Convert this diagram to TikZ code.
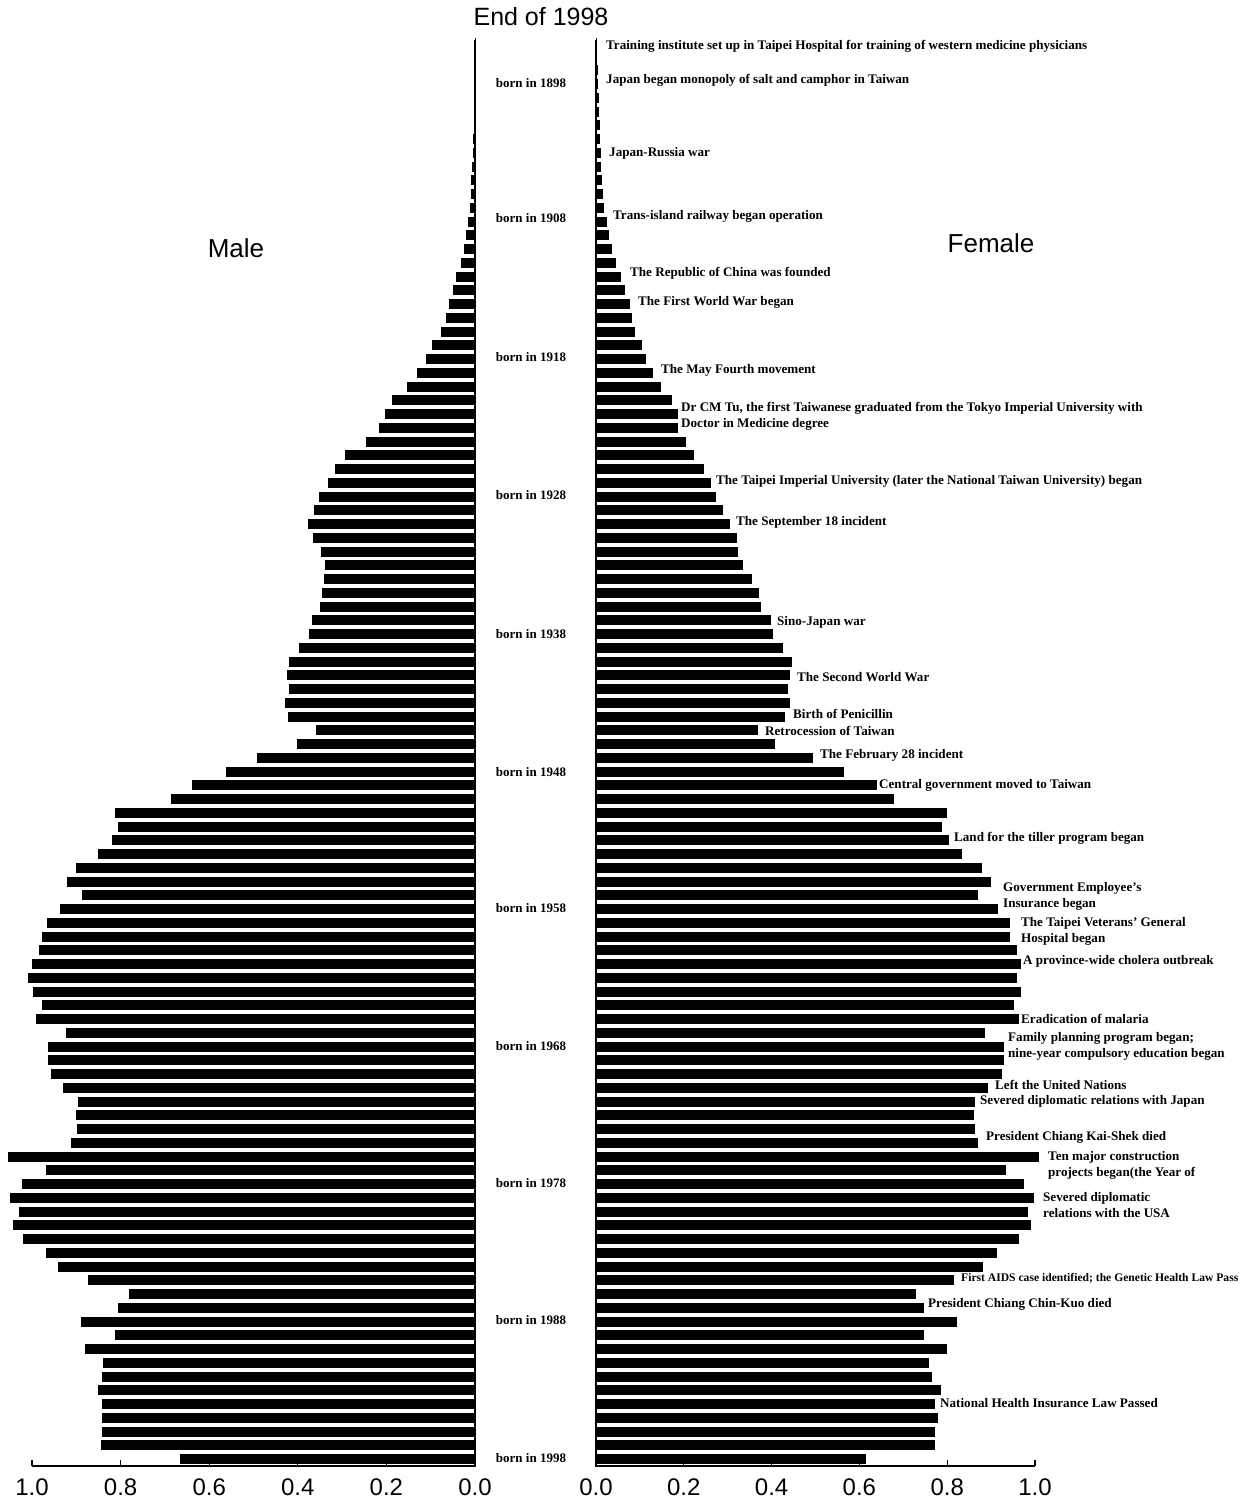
\documentclass[tikz,border=0pt]{standalone}
\usepackage{fontspec}
\setmainfont{Liberation Serif}
\newfontfamily\axfont{Liberation Sans}
\begin{document}
\begin{tikzpicture}[x=1pt,y=-1pt,
  event/.style={anchor=west,inner sep=0pt,align=left,font=\fontsize{13.1}{16}\selectfont\bfseries},
  smallevent/.style={event,font=\fontsize{11.6}{14}\selectfont\bfseries},
  born/.style={anchor=center,inner sep=0pt,font=\fontsize{13}{14}\selectfont\bfseries},
  ticklab/.style={inner sep=0pt,anchor=center,font=\axfont\fontsize{24}{26}\selectfont},
  headline/.style={inner sep=0pt,anchor=center,font=\axfont\fontsize{25}{28}\selectfont},
  sexlab/.style={inner sep=0pt,anchor=center,font=\axfont\fontsize{26}{28}\selectfont},
  axisline/.style={line width=2pt,black},
  bar/.style={fill=black}]
\useasboundingbox[fill=white] (0,0) rectangle (1245,1499);

% bottom scales with upward ticks (mostly hidden behind the bars)
\draw[line width=1.5pt] (32,1466) -- (475,1466);
\draw[line width=1.5pt] (596,1466) -- (1035,1466);
\foreach \v in {0.2,0.4,0.6,0.8,1.0}{
  \draw[line width=1.2pt] (475-443*\v,1466) -- (475-443*\v,1460);
  \draw[line width=1.2pt] (596+439*\v,1466) -- (596+439*\v,1460);
}

% one pair of bars per birth year: year / male share / female share
\foreach \yr/\m/\f in {
1895/0.001/0.002,1896/0.001/0.003,1897/0.002/0.004,1898/0.002/0.005,
1899/0.002/0.006,1900/0.003/0.007,1901/0.003/0.008,1902/0.004/0.009,
1903/0.005/0.011,1904/0.006/0.012,1905/0.008/0.014,1906/0.010/0.016,
1907/0.012/0.019,1908/0.016/0.024,1909/0.020/0.030,1910/0.025/0.036,
1911/0.032/0.045,1912/0.042/0.058,1913/0.050/0.067,1914/0.058/0.078,
1915/0.066/0.081,1916/0.077/0.089,1917/0.096/0.105,1918/0.111/0.113,
1919/0.130/0.129,1920/0.154/0.147,1921/0.188/0.173,1922/0.204/0.187,
1923/0.217/0.187,1924/0.247/0.204,1925/0.293/0.223,1926/0.317/0.246,
1927/0.332/0.262,1928/0.353/0.274,1929/0.363/0.290,1930/0.378/0.305,
1931/0.365/0.321,1932/0.347/0.324,1933/0.339/0.334,1934/0.340/0.355,
1935/0.345/0.372,1936/0.349/0.376,1937/0.367/0.398,1938/0.375/0.403,
1939/0.397/0.427,1940/0.419/0.446,1941/0.425/0.441,1942/0.419/0.438,
1943/0.430/0.441,1944/0.421/0.431,1945/0.360/0.369,1946/0.401/0.407,
1947/0.493/0.494,1948/0.563/0.564,1949/0.638/0.640,1950/0.686/0.679,
1951/0.812/0.800,1952/0.805/0.789,1953/0.819/0.805,1954/0.851/0.834,
1955/0.900/0.879,1956/0.920/0.899,1957/0.888/0.871,1958/0.937/0.916,
1959/0.966/0.944,1960/0.977/0.944,1961/0.985/0.959,1962/1.000/0.968,
1963/1.010/0.959,1964/0.998/0.968,1965/0.977/0.952,1966/0.990/0.963,
1967/0.924/0.887,1968/0.965/0.930,1969/0.964/0.930,1970/0.957/0.925,
1971/0.929/0.892,1972/0.896/0.863,1973/0.900/0.861,1974/0.898/0.863,
1975/0.913/0.870,1976/1.055/1.010,1977/0.968/0.935,1978/1.023/0.975,
1979/1.050/0.997,1980/1.029/0.983,1981/1.043/0.990,1982/1.020/0.963,
1983/0.968/0.914,1984/0.942/0.882,1985/0.874/0.815,1986/0.780/0.730,
1987/0.805/0.748,1988/0.890/0.823,1989/0.812/0.748,1990/0.881/0.799,
1991/0.840/0.758,1992/0.842/0.765,1993/0.851/0.786,1994/0.842/0.772,
1995/0.842/0.779,1996/0.842/0.772,1997/0.844/0.772,1998/0.667/0.616}{
  \pgfmathsetmacro\yc{1459-(1998-\yr)*13.75}
  \fill[bar] (475-443*\m,\yc-5) rectangle (475,\yc+5);
  \fill[bar] (596,\yc-5) rectangle (596+439*\f,\yc+5);
}

% central axes
\draw[axisline] (475,40) -- (475,1467);
\draw[axisline] (596,40) -- (596,1467);

% headings
\node[headline] (title) at (541,17) {End of 1998};
\node[sexlab] (male) at (236,248) {Male};
\node[sexlab] (female) at (991,243) {Female};

% birth-year markers between the halves
\foreach \yr/\yy in {1898/83,1908/218,1918/357,1928/495,1938/634,1948/772,
                     1958/908,1968/1046,1978/1183,1988/1320,1998/1458}
  \node[born] (b\yr) at (531,\yy) {born in \yr};

% scale labels
\foreach \v/\lab in {0/0.0,0.2/0.2,0.4/0.4,0.6/0.6,0.8/0.8,1/1.0}{
  \node[ticklab] (ml\lab) at (475-443*\v,1487) {\lab};
  \node[ticklab] (fl\lab) at (596+439*\v,1487) {\lab};
}

% historical events
\node[event] (e01) at (606,46) {Training institute set up in Taipei Hospital for training of western medicine physicians};
\node[event] (e02) at (606,80) {Japan began monopoly of salt and camphor in Taiwan};
\node[event] (e03) at (609,153) {Japan-Russia war};
\node[event] (e04) at (613,216) {Trans-island railway began operation};
\node[event] (e05) at (630,273) {The Republic of China was founded};
\node[event] (e06) at (638,302) {The First World War began};
\node[event] (e07) at (661,370) {The May Fourth movement};
\node[event] (e08) at (681,416) {Dr CM Tu, the first Taiwanese graduated from the Tokyo Imperial University with\\Doctor in Medicine degree};
\node[event] (e09) at (716,481) {The Taipei Imperial University (later the National Taiwan University) began};
\node[event] (e10) at (736,522) {The September 18 incident};
\node[event] (e11) at (777,622) {Sino-Japan war};
\node[event] (e12) at (797,677) {The Second World War};
\node[event] (e13) at (793,714) {Birth of Penicillin};
\node[event] (e14) at (765,731) {Retrocession of Taiwan};
\node[event] (e15) at (820,755) {The February 28 incident};
\node[event] (e16) at (879,785) {Central government moved to Taiwan};
\node[event] (e17) at (954,838) {Land for the tiller program began};
\node[event] (e18) at (1003,896) {Government Employee's\\Insurance began};
\node[event] (e19) at (1021,931) {The Taipei Veterans' General\\Hospital began};
\node[event] (e20) at (1023,961) {A province-wide cholera outbreak};
\node[event] (e21) at (1021,1019) {Eradication of malaria};
\node[event] (e22) at (1008,1046) {Family planning program began;\\nine-year compulsory education began};
\node[event] (e23) at (995,1085) {Left the United Nations};
\node[event] (e24) at (980,1101) {Severed diplomatic relations with Japan};
\node[event] (e25) at (986,1137) {President Chiang Kai-Shek died};
\node[event] (e26) at (1048,1165) {Ten major construction\\projects began(the Year of};
\node[event] (e27) at (1043,1205) {Severed diplomatic\\relations with the USA};
\node[smallevent] (e28) at (961,1278) {First AIDS case identified; the Genetic Health Law Pass};
\node[event] (e29) at (928,1304) {President Chiang Chin-Kuo died};
\node[event] (e30) at (940,1403) {National Health Insurance Law Passed};
\end{tikzpicture}
\end{document}
